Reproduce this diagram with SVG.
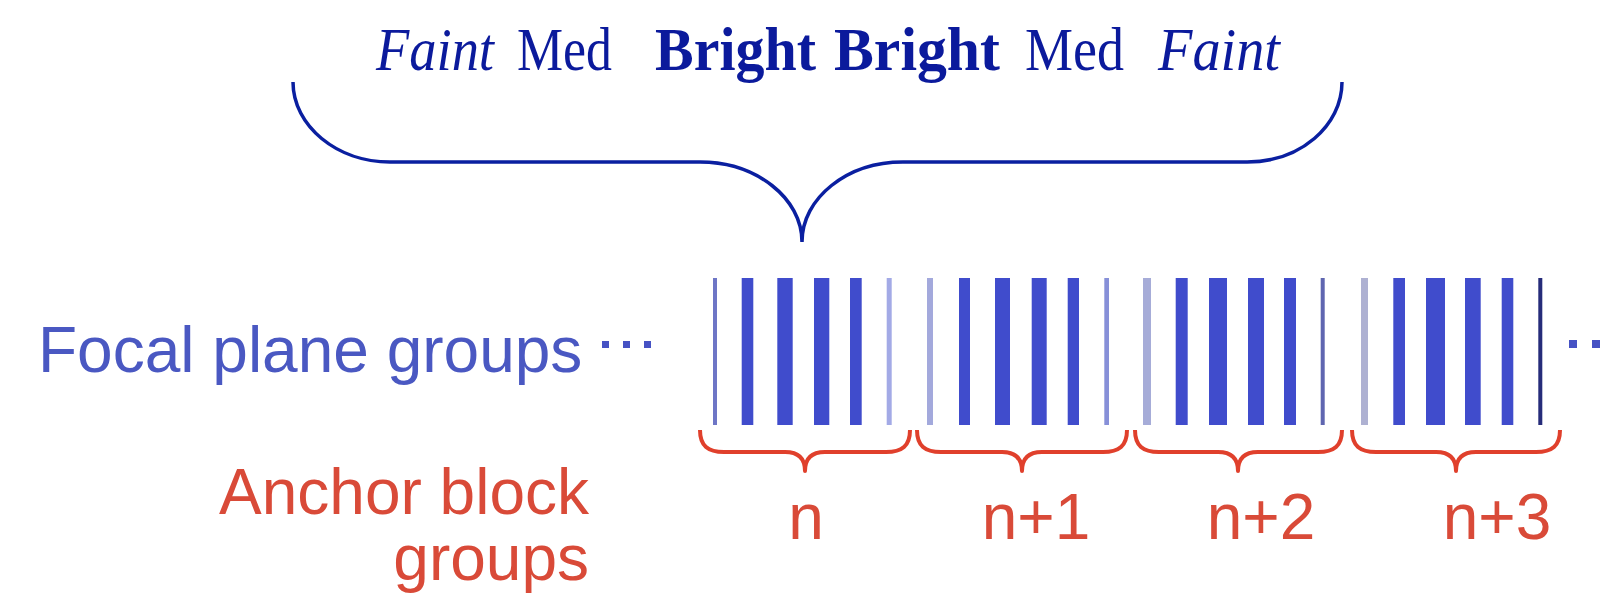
<svg xmlns="http://www.w3.org/2000/svg" width="1605" height="601" viewBox="0 0 1605 601">
<style>
.title{font-family:"Liberation Serif","DejaVu Serif",serif;font-size:62px;fill:#0b1a9c}
.it{font-style:italic}
.bd{font-weight:bold}
.sans{font-family:"Liberation Sans",Arial,sans-serif;font-size:64px}
.blue{fill:#4a58c2}
.red{fill:#d94a38}
.bar{fill:#404ccc}
.dot{fill:#4652c4}
.bigbrace{fill:none;stroke:#0a1fa0;stroke-width:3.5}
.brace{fill:none;stroke:#e0402c;stroke-width:4;stroke-linejoin:round}
</style>
<rect width="1605" height="601" fill="#ffffff"/>
<g id="title">
<text class="title" y="70" lengthAdjust="spacingAndGlyphs"><tspan class="it" x="376" textLength="118" lengthAdjust="spacingAndGlyphs">Faint</tspan><tspan x="517" textLength="95" lengthAdjust="spacingAndGlyphs">Med</tspan><tspan class="bd" x="655" textLength="161" lengthAdjust="spacingAndGlyphs">Bright</tspan><tspan class="bd" x="834" textLength="166" lengthAdjust="spacingAndGlyphs">Bright</tspan><tspan x="1025" textLength="99" lengthAdjust="spacingAndGlyphs">Med</tspan><tspan class="it" x="1158" textLength="122" lengthAdjust="spacingAndGlyphs">Faint</tspan></text>
</g>
<g id="connectors">
<path class="bigbrace" d="M293,82 C293,126 337,162 390,162 L700,162 C756,162 802,198 802,242 C802,198 847,162 903,162 L1247,162 C1300,162 1342,126 1342,82"/>
<path class="brace" d="M700,430 C700,446 708,452 724,452 L785,452 C798,452 805,458 805,471 C805,458 812,452 825,452 L886,452 C902,452 910,446 910,430"/>
<path class="brace" d="M917,430 C917,446 925,452 941,452 L1002,452 C1015,452 1022,458 1022,471 C1022,458 1029,452 1042,452 L1103,452 C1119,452 1127,446 1127,430"/>
<path class="brace" d="M1135,430 C1135,446 1143,452 1159,452 L1218,452 C1231,452 1238,458 1238,471 C1238,458 1245,452 1258,452 L1318,452 C1334,452 1342,446 1342,430"/>
<path class="brace" d="M1352,430 C1352,446 1360,452 1376,452 L1436,452 C1449,452 1456,458 1456,471 C1456,458 1463,452 1476,452 L1536,452 C1552,452 1560,446 1560,430"/>
</g>
<g id="focal-label">
<text class="sans blue" x="38" y="372">Focal plane groups</text>
<rect class="dot" x="602" y="341" width="7" height="7"/>
<rect class="dot" x="623" y="341" width="7" height="7"/>
<rect class="dot" x="644" y="341" width="7" height="7"/>
<rect class="dot" x="1569" y="340" width="8" height="8"/>
<rect class="dot" x="1592" y="340" width="8" height="8"/>
</g>
<g id="anchor-label">
<text class="sans red" text-anchor="end" x="589" y="514">Anchor block</text>
<text class="sans red" text-anchor="end" x="589" y="580">groups</text>
</g>
<g id="group-n">
<rect x="713" y="278" width="4" height="147" fill="#6e76c6"/>
<rect class="bar" x="741.7" y="278" width="11.6" height="147"/>
<rect class="bar" x="777.3" y="278" width="15.4" height="147"/>
<rect class="bar" x="814" y="278" width="15.3" height="147"/>
<rect class="bar" x="850" y="278" width="11.7" height="147"/>
<rect x="886.7" y="278" width="5" height="147" fill="#a3aae6"/>
<text class="sans red" text-anchor="middle" x="806" y="539">n</text>
</g>
<g id="group-n1">
<rect x="927" y="278" width="6" height="147" fill="#a3a9dc"/>
<rect class="bar" x="959" y="278" width="11" height="147"/>
<rect class="bar" x="995" y="278" width="15" height="147"/>
<rect class="bar" x="1031.7" y="278" width="15" height="147"/>
<rect class="bar" x="1067.7" y="278" width="11.3" height="147"/>
<rect x="1104.3" y="278" width="4.7" height="147" fill="#8790d8"/>
<text class="sans red" text-anchor="middle" x="1036" y="539">n+1</text>
</g>
<g id="group-n2">
<rect x="1143" y="278" width="8" height="147" fill="#a6acd8"/>
<rect class="bar" x="1175.7" y="278" width="12" height="147"/>
<rect class="bar" x="1209" y="278" width="18" height="147"/>
<rect class="bar" x="1248" y="278" width="16" height="147"/>
<rect class="bar" x="1284" y="278" width="12" height="147"/>
<rect x="1320.7" y="278" width="4" height="147" fill="#5f66b0"/>
<text class="sans red" text-anchor="middle" x="1261" y="539">n+2</text>
</g>
<g id="group-n3">
<rect x="1361" y="278" width="7" height="147" fill="#aeb1d2"/>
<rect class="bar" x="1393.3" y="278" width="11.7" height="147"/>
<rect class="bar" x="1426" y="278" width="19" height="147"/>
<rect class="bar" x="1465" y="278" width="15.7" height="147"/>
<rect class="bar" x="1501.7" y="278" width="11.6" height="147"/>
<rect x="1538.3" y="278" width="4" height="147" fill="#262c7a"/>
<text class="sans red" text-anchor="middle" x="1497" y="539">n+3</text>
</g>
</svg>
